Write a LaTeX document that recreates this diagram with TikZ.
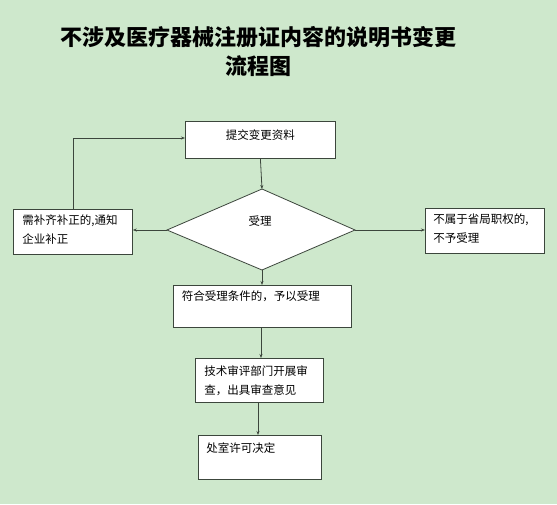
\documentclass[tikz,border=0pt]{standalone}
\usepackage{fontspec}
\newfontfamily\cjk{Noto Sans CJK SC}
\usetikzlibrary{arrows.meta,shapes.geometric}
\definecolor{bg}{RGB}{206,232,204}
\definecolor{ln}{RGB}{60,70,60}
\begin{document}
\begin{tikzpicture}[x=1pt,y=-1pt,
  box/.style={draw=ln,line width=0.8pt,fill=white,rectangle,inner sep=0pt,anchor=north west,font=\cjk\fontsize{11.5}{19}\selectfont},
  arr/.style={draw=ln,line width=0.8pt,-{Stealth[length=4pt,width=3pt]}},
  ttl/.style={font=\cjk\bfseries\fontsize{22}{29}\selectfont,align=center}]
\useasboundingbox (0,0) rectangle (557,504);
\fill[bg] (0,0) rectangle (557,504);
\node[ttl] (title) at (258,51) {不涉及医疗器械注册证内容的说明书变更\\流程图};
% boxes
\node[box,minimum width=150pt,minimum height=37pt] (submit) at (185,121)
  {\parbox[c][37pt][t]{150pt}{\vspace{8pt}\centering 提交变更资料}};
\coordinate (dT) at (262,189);
\coordinate (dL) at (167,230);
\coordinate (dR) at (355,230);
\coordinate (dB) at (262,270);
\filldraw[draw=ln,line width=0.8pt,fill=white] (dT) -- (dR) -- (dB) -- (dL) -- cycle;
\node[font=\cjk\fontsize{11.5}{19}\selectfont] (accept) at (260,221) {受理};
\node[box,minimum width=119pt,minimum height=45pt] (fix) at (13,209)
  {\hspace{7pt}\parbox[c][45pt][t]{108pt}{\vspace{5pt}需补齐补正的,通知\\企业补正}};
\node[box,minimum width=119pt,minimum height=45pt] (reject) at (425,208)
  {\hspace{7pt}\parbox[c][45pt][t]{110pt}{\vspace{5pt}不属于省局职权的,\\不予受理}};
\node[box,minimum width=178pt,minimum height=42pt] (ok) at (173,285)
  {\hspace{7pt}\parbox[c][42pt][t]{168pt}{\vspace{5pt}符合受理条件的，予以受理}};
\node[box,minimum width=128pt,minimum height=44pt] (review) at (195,358)
  {\hspace{8pt}\parbox[c][44pt][t]{118pt}{\vspace{7pt}技术审评部门开展审\\查，出具审查意见}};
\node[box,minimum width=123pt,minimum height=44pt] (decide) at (198,435)
  {\hspace{7pt}\parbox[c][44pt][t]{114pt}{\vspace{7pt}处室许可决定}};
% connectors
\draw[arr] (submit.south) -- (dT);
\draw[arr] (dL) -- (fix.east |- dL);
\draw[arr] (dR) -- (reject.west |- dR);
\coordinate (loopA) at (73,138);
\draw[arr] (fix.north -| loopA) -- (loopA) -- (submit.west |- loopA);
\draw[arr] (dB) -- (ok.north -| dB);
\draw[arr] (ok.south -| 261,0) -- (review.north -| 261,0);
\draw[arr] (review.south -| 258,0) -- (decide.north -| 258,0);
\end{tikzpicture}
\end{document}
